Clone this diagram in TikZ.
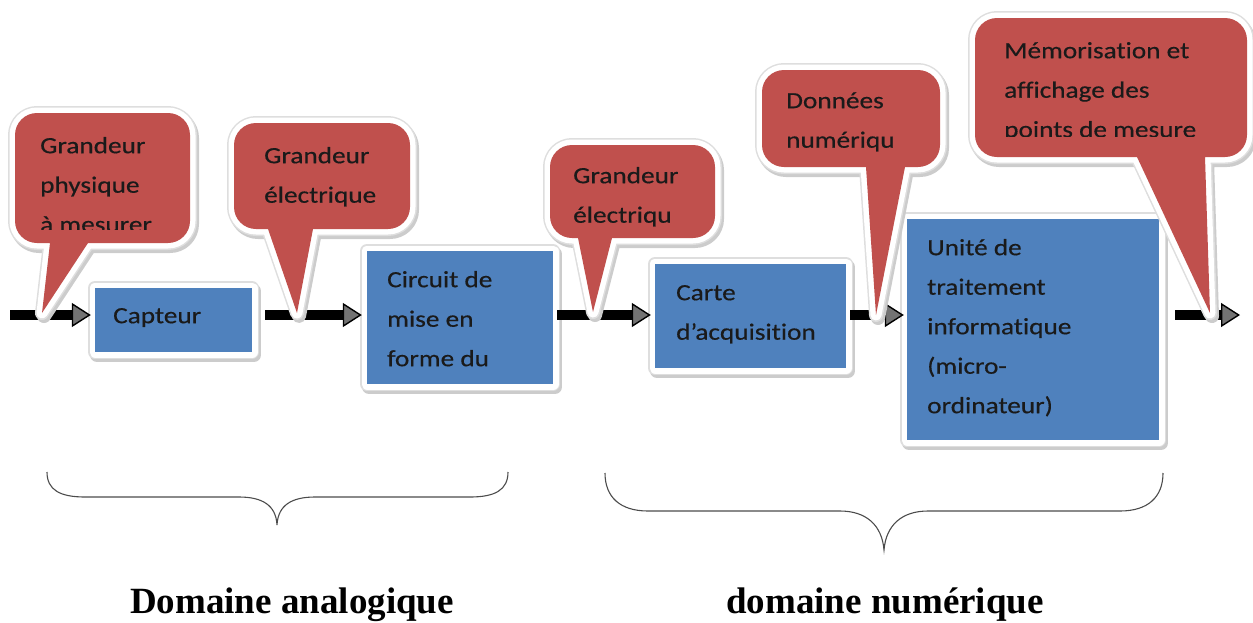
\documentclass[tikz,border=0pt]{standalone}
\usepackage{fontspec}
\setmainfont{Liberation Serif}
\newfontfamily\boxfont[FakeStretch=1.17,FakeBold=0.4,Ligatures=NoCommon]{Carlito}
\usetikzlibrary{arrows.meta}
\definecolor{boxblue}{HTML}{4F81BD}
\definecolor{callred}{HTML}{C0504D}
\definecolor{ink}{HTML}{1A1A1A}
\newcommand{\topstrut}{\rule{0pt}{20pt}}

\tikzset{
  softframe/.style={
    preaction={draw=black!20, fill=black!20, line width=14pt, line join=round,
               transform canvas={shift={(2pt,-3pt)}}},
    preaction={draw=black!13, line width=14pt, line join=round},
    preaction={draw=white, line width=11pt, line join=round}},
  block/.style={softframe, fill=boxblue, inner sep=0pt, line join=round},
  bubble/.style={softframe, fill=callred, line join=round, rounded corners=22pt},
  txt/.style={font=\boxfont\fontsize{23.3}{39.5}\selectfont, text=ink,
              align=left, anchor=north west, inner sep=0pt},
  flow/.style={line width=10pt, draw=black,
               -{Triangle[length=19pt,width=24pt,line width=1.4pt,fill=black!55]}},
  bracket/.style={draw=black!70, line width=1.1pt},
  domainlabel/.style={font=\bfseries\fontsize{37}{40}\selectfont, anchor=base, inner sep=0pt}
}

\begin{document}
\begin{tikzpicture}[x=1pt, y=-1pt]
\useasboundingbox (0,0) rectangle (1253,622);

% curly braces grouping the two domains
\draw[bracket] (47,472) .. controls (47,490) and (60,497) .. (85,497) -- (239,497)
  .. controls (262,497) and (276,505) .. (277,525)
  .. controls (278,505) and (292,497) .. (315,497) -- (470,497)
  .. controls (495,497) and (508,490) .. (508,472);
\draw[bracket] (605,473) .. controls (605,497) and (620,511) .. (648,511) -- (840,511)
  .. controls (866,511) and (882,525) .. (884,550)
  .. controls (886,525) and (902,511) .. (928,511) -- (1120,511)
  .. controls (1148,511) and (1163,497) .. (1163,473);

\node[domainlabel] (analog) at (292,613) {Domaine analogique};
\node[domainlabel] (numeric) at (885,613) {domaine numérique};

% processing blocks (drawn as empty frames, text set separately)
\path
  (173.5,320)  node[block, minimum width=157pt, minimum height=64pt]  (capteur) {}
  (460,317.5)  node[block, minimum width=186pt, minimum height=133pt] (circuit) {}
  (750.5,316)  node[block, minimum width=191pt, minimum height=104pt] (carte) {}
  (1033,329.5) node[block, minimum width=252pt, minimum height=221pt] (unite) {};

% signal flow
\coordinate (in) at (10,315);
\coordinate (out) at (1240,315);
\draw[flow, shorten >=4pt] (in) -- (in -| capteur.west);
\draw[flow, shorten <=13pt, shorten >=5pt] (capteur.east |- in) -- (circuit.west |- in);
\draw[flow, shorten <=4pt, shorten >=4pt] (circuit.east |- in) -- (carte.west |- in);
\draw[flow, shorten <=4pt, shorten >=3pt] (carte.east |- in) -- (unite.west |- in);
\draw[flow, shorten <=16pt] (unite.east |- in) -- (out);

% speech bubbles naming the signal at each stage
\path[bubble] (15,113) rectangle (190,243)
  [sharp corners] (50,243) -- (42,313) -- (88,243) -- cycle;
\path[bubble] (234,123) rectangle (410,229)
  [sharp corners] (268,229) -- (297,313) -- (313,229) -- cycle;
\path[bubble] (550,145) rectangle (715,238)
  [sharp corners] (578,238) -- (593,312) -- (612,238) -- cycle;
\path[bubble] (762,70) rectangle (940,167)
  [sharp corners] (866,167) -- (876,315) -- (905,167) -- cycle;
\path[bubble] (975,18) rectangle (1247,157)
  [sharp corners] (1137,157) -- (1210,313) -- (1205,157) -- cycle;

\begin{scope}
  \clip (15,113) rectangle (190,229);
  \node[txt] (t1) at (40,133) {\topstrut Grandeur\\physique\\à mesurer};
\end{scope}
\node[txt] (t2) at (264,143) {\topstrut Grandeur\\électrique};
\node[txt] (t3) at (573,163) {\topstrut Grandeur\\électriqu};
\node[txt] (t4) at (786,88) {\topstrut Données\\numériqu};
\begin{scope}
  \clip (975,18) rectangle (1247,136);
  \node[txt] (t5) at (1004,38) {\topstrut Mémorisation et\\affichage des\\points de mesure};
\end{scope}

% block labels
\node[txt] (capteurtxt) at (113,303) {\topstrut Capteur};
\node[txt] (circuittxt) at (387,267) {\topstrut Circuit de\\mise en\\forme du};
\node[txt] (cartetxt) at (676,280) {\topstrut Carte\\d’acquisition};
\node[txt] (unitetxt) at (927,235) {\topstrut Unité de\\traitement\\informatique\\(micro-\\ordinateur)};
\end{tikzpicture}
\end{document}
